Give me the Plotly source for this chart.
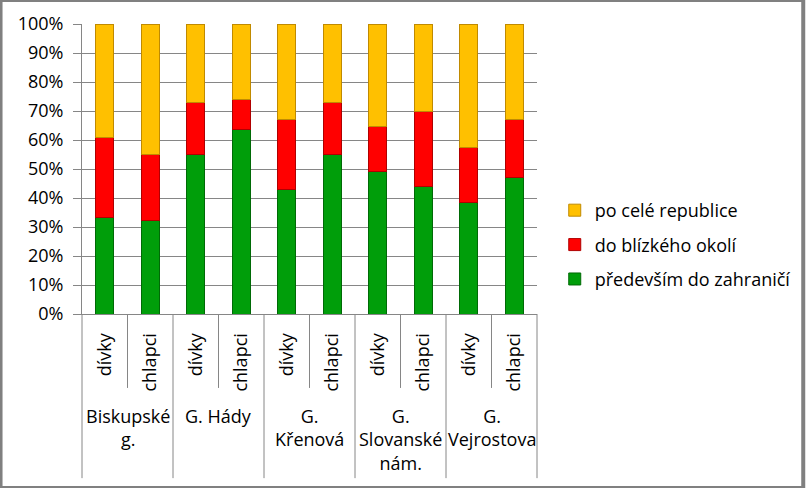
import plotly.graph_objects as go

schools = ["Biskupské<br>g.", "G. Hády", "G.<br>Křenová", "G.<br>Slovanské<br>nám.", "G.<br>Vejrostova"]
genders = ["dívky", "chlapci"]

abroad = [33.3, 32.4, 54.9, 63.7, 43.0, 55.1, 49.1, 43.9, 38.4, 47.1]
nearby = [27.4, 22.5, 18.1, 10.3, 24.0, 17.9, 15.6, 26.0, 18.9, 19.9]
republic = [39.3, 45.1, 27.0, 26.0, 33.0, 27.0, 35.3, 30.1, 42.7, 33.0]

series = [
    ("především do zahraničí", abroad, "#009E0A", "#006A06", 3),
    ("do blízkého okolí", nearby, "#FF0000", "#B00000", 2),
    ("po celé republice", republic, "#FFC000", "#C08A00", 1),
]

n = len(schools) * len(genders)
xs = list(range(n))
ticktext = [g for _ in schools for g in genders]

FONT = "Open Sans"
FS = 18
fig = go.Figure()
for i, (name, vals, col, edge, rank) in enumerate(series):
    fig.add_trace(go.Bar(
        x=xs, y=vals, name=name, width=0.4,
        marker=dict(color=col, line=dict(color=edge, width=1)),
        legendgroup=f"g{i}", legendrank=rank,
    ))

shapes = []
grid_col = "#868686"
for k in range(n + 1):
    px = k / n
    outer = (k % 2 == 0)
    shapes.append(dict(type="line", xref="paper", yref="paper",
                       x0=px, x1=px, y0=0, y1=(-0.566 if outer else -0.255),
                       line=dict(color=grid_col, width=1)))

annotations = []
for gi, s in enumerate(schools):
    annotations.append(dict(text=s, xref="paper", yref="paper",
                            x=(2 * gi + 1) / n, y=-0.302, xanchor="center", yanchor="top",
                            showarrow=False, align="center",
                            font=dict(family=FONT, size=FS, color="#000")))

fig.update_layout(
    width=808, height=488,
    margin=dict(l=82, r=268, t=24, b=174),
    paper_bgcolor="white", plot_bgcolor="white",
    barmode="stack", bargap=0.6,
    font=dict(family=FONT, size=FS, color="#000"),
    showlegend=True,
    legend=dict(x=1.039, y=0.238, xanchor="left", yanchor="middle",
                traceorder="grouped", tracegroupgap=8,
                font=dict(family=FONT, size=FS, color="#000"),
                bgcolor="rgba(0,0,0,0)"),
    shapes=shapes + [dict(type="rect", xref="paper", yref="paper",
                          x0=-82/458, x1=(808-82)/458, y0=-174/290, y1=1 + 24/290,
                          line=dict(color="#808080", width=4), layer="below")],
    annotations=annotations,
)
fig.update_xaxes(range=[-0.5, n - 0.5], tickmode="array", tickvals=xs, ticktext=ticktext,
                 tickangle=-90, ticks="", showgrid=False, zeroline=False,
                 showline=True, linecolor=grid_col, linewidth=1,
                 tickfont=dict(family=FONT, size=FS, color="#000"),
                 ticklabelstandoff=11)
fig.update_yaxes(range=[0, 100], tickvals=list(range(0, 101, 10)),
                 ticktext=[f"{v}%" for v in range(0, 101, 10)],
                 showgrid=True, gridcolor=grid_col, gridwidth=1,
                 ticks="outside", ticklen=8, tickcolor=grid_col,
                 showline=True, linecolor=grid_col, linewidth=1, zeroline=False,
                 tickfont=dict(family=FONT, size=FS, color="#000"),
                 ticklabelstandoff=6)

fig.write_html("out.html", config={"displayModeBar": False},
               post_script="document.body.style.margin='0';")
